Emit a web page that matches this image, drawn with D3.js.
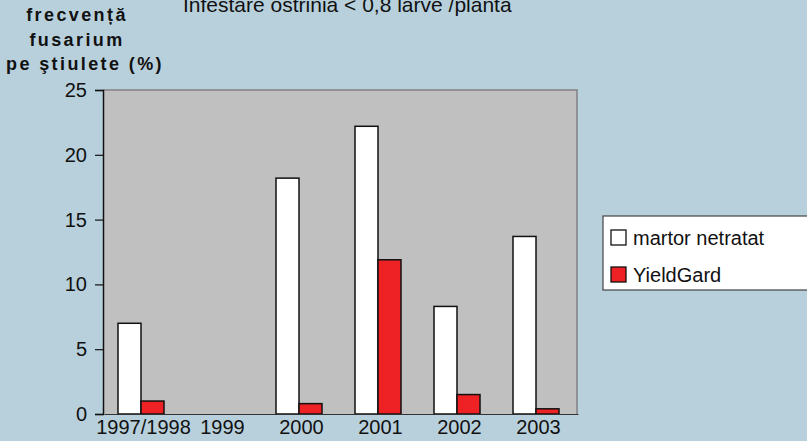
<!DOCTYPE html>
<html>
<head>
<meta charset="utf-8">
<script src="https://cdn.jsdelivr.net/npm/d3@7"></script>
<style>
  body { margin: 0; background: #b8d0dc; }
  svg { display: block; font-family: Arial, "Liberation Sans", sans-serif; }
</style>
</head>
<body>
<svg id="chart"></svg>
<script>
var categories = ["1997/1998", "1999", "2000", "2001", "2002", "2003"];
var martor = [7.0, null, 18.2, 22.2, 8.3, 13.7];
var yieldgard = [1.0, null, 0.8, 11.9, 1.5, 0.4];
var seriesNames = ["martor netratat", "YieldGard"];
var seriesColors = ["#ffffff", "#ee2224"];
var yTicks = [0, 5, 10, 15, 20, 25];

var width = 807, height = 441;
var plotLeft = 103, plotRight = 577, plotTop = 90, plotBottom = 414;

var svg = d3.select("#chart")
    .attr("width", width)
    .attr("height", height);

var xScale = d3.scaleBand()
    .domain(categories)
    .range([plotLeft, plotRight]);

var yScale = d3.scaleLinear()
    .domain([0, 25])
    .range([plotBottom, plotTop]);

// plot area
svg.append("rect")
    .attr("x", plotLeft).attr("y", plotTop)
    .attr("width", plotRight - plotLeft).attr("height", plotBottom - plotTop)
    .attr("fill", "#c0c0c0");

svg.append("path")
    .attr("d", "M" + plotLeft + "," + plotTop + "H" + plotRight + "V" + plotBottom)
    .attr("fill", "none")
    .attr("stroke", "#808080")
    .attr("stroke-width", 1.5);

var barW = 23;
var series = [martor, yieldgard];

series.forEach(function (vals, s) {
    svg.append("g").selectAll("rect")
        .data(vals.map(function (v, i) { return { v: v, c: categories[i] }; })
            .filter(function (d) { return d.v != null; }))
        .enter()
        .append("rect")
        .attr("x", function (d) {
            return xScale(d.c) + xScale.bandwidth() / 2 - barW + s * barW - 1.5;
        })
        .attr("y", function (d) { return yScale(d.v); })
        .attr("width", barW)
        .attr("height", function (d) { return plotBottom - yScale(d.v); })
        .attr("fill", seriesColors[s])
        .attr("stroke", "#111")
        .attr("stroke-width", 1.5);
});

// axes
var y_axis = d3.axisLeft(yScale).tickValues(yTicks).tickSize(8).tickPadding(8);
var yg = svg.append("g")
    .attr("transform", "translate(" + plotLeft + ",0)")
    .call(y_axis);
yg.select(".domain").attr("stroke", "#111").attr("stroke-width", 1.5);
yg.selectAll(".tick line").attr("stroke", "#111").attr("stroke-width", 1.2);
yg.selectAll("text").attr("font-size", 20).attr("fill", "#111")
    .attr("font-family", "Arial, 'Liberation Sans', sans-serif");

var x_axis = d3.axisBottom(xScale).tickSize(0).tickPadding(6);
var xg = svg.append("g")
    .attr("transform", "translate(1," + plotBottom + ")")
    .call(x_axis);
xg.select(".domain").attr("stroke", "#333").attr("stroke-width", 1);
xg.selectAll("text").attr("font-size", 20).attr("fill", "#111")
    .attr("font-family", "Arial, 'Liberation Sans', sans-serif");

// titles
svg.append("text")
    .attr("x", 183).attr("y", 12)
    .attr("font-size", 21).attr("fill", "#111")
    .text("Infestare ostrinia < 0,8 larve /planta");

var yTitle = ["frecvență", "fusarium", "pe ştiulete (%)"];
svg.append("g").selectAll("text")
    .data(yTitle)
    .enter()
    .append("text")
    .attr("x", function (d, i) { return i == 2 ? 85 : 77; })
    .attr("y", function (d, i) { return 21 + i * 24.5; })
    .attr("text-anchor", "middle")
    .attr("font-size", 18)
    .attr("font-weight", "bold")
    .attr("letter-spacing", 2.4)
    .attr("fill", "#111")
    .text(function (d) { return d; });

// legend
var lg = svg.append("g");
lg.append("rect")
    .attr("x", 603).attr("y", 216)
    .attr("width", 210).attr("height", 74)
    .attr("fill", "#ffffff")
    .attr("stroke", "#444")
    .attr("stroke-width", 1.2);

seriesNames.forEach(function (name, i) {
    lg.append("rect")
        .attr("x", 611).attr("y", 230 + i * 37)
        .attr("width", 15).attr("height", 15)
        .attr("fill", seriesColors[i])
        .attr("stroke", "#111")
        .attr("stroke-width", 1.3);
    lg.append("text")
        .attr("x", 633).attr("y", 245 + i * 37)
        .attr("font-size", 20).attr("fill", "#111")
        .text(name);
});
</script>
</body>
</html>
